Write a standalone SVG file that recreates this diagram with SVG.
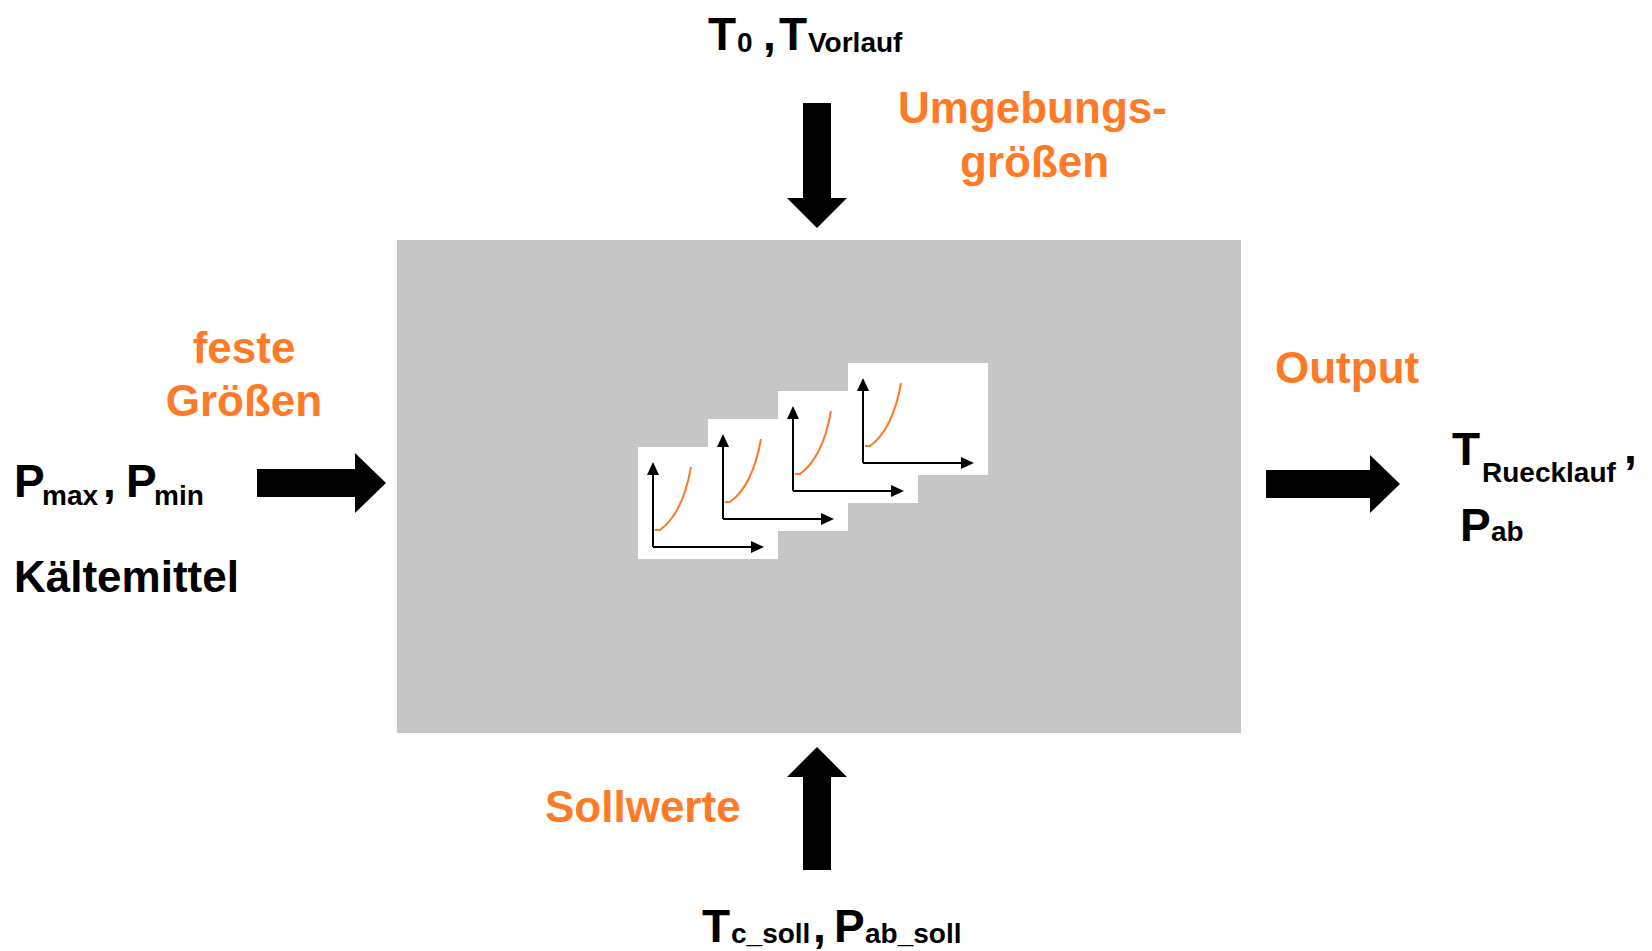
<svg xmlns="http://www.w3.org/2000/svg" width="1652" height="951" viewBox="0 0 1652 951">
  <style>
    .lbl { font-family: "Liberation Sans", Arial, sans-serif; font-weight: bold; font-size: 44px; fill: #ff7a26; }
    .var { font-family: "Liberation Sans", Arial, sans-serif; font-weight: bold; font-size: 46px; fill: #000; }
    .sub { font-size: 28px; }
    .txt { font-family: "Liberation Sans", Arial, sans-serif; font-weight: bold; font-size: 44px; fill: #000; }
    .card { fill: #fff; }
    .axis { stroke: #000; stroke-width: 2; fill: none; }
    .head { fill: #000; }
    .curve { stroke: #ff7a26; stroke-width: 2; fill: none; }
    .block { fill: #000; }
  </style>
  <defs>
    <!-- small characteristic-curve plot, local origin at card top-left -->
    <g id="plot">
      <rect class="card" x="0" y="0" width="140" height="112"/>
    </g>
    <g id="plotContent">
      <path class="axis" d="M15,100 V27 M15,100 H114"/>
      <polygon class="head" points="15,15 9,28 21,28"/>
      <polygon class="head" points="126,100 113,94 113,106"/>
      <path class="curve" d="M17,83 H22 C33,75 46,60 53,20"/>
    </g>
  </defs>

  <rect width="1652" height="951" fill="#fff"/>

  <!-- model block with stacked characteristic maps -->
  <g id="model">
    <rect x="397" y="240" width="844" height="493" fill="#c6c6c6"/>
    <use href="#plot" x="638" y="447"/>
    <use href="#plot" x="708" y="419"/>
    <use href="#plot" x="778" y="391"/>
    <use href="#plot" x="848" y="363"/>
    <use href="#plotContent" x="638" y="447"/>
    <use href="#plotContent" x="708" y="419"/>
    <use href="#plotContent" x="778" y="391"/>
    <use href="#plotContent" x="848" y="363"/>
  </g>

  <!-- block arrows into and out of the model -->
  <g id="connectors">
    <polygon class="block" points="803,103 831,103 831,198 847,198 817,228 787,198 803,198"/>
    <polygon class="block" points="803,870 831,870 831,777 847,777 817,747 787,777 803,777"/>
    <polygon class="block" points="257,469 355,469 355,453 386,483 355,513 355,497 257,497"/>
    <polygon class="block" points="1266,470 1370,470 1370,455 1400,484 1370,513 1370,498 1266,498"/>
  </g>

  <!-- environment inputs -->
  <g id="umgebung">
    <text class="var" y="50"><tspan x="708">T</tspan><tspan class="sub" x="737" y="52">0</tspan><tspan x="763" y="50">,</tspan><tspan x="779">T</tspan><tspan class="sub" x="808" y="52">Vorlauf</tspan></text>
    <text class="lbl" x="898" y="123">Umgebungs-</text>
    <text class="lbl" x="960" y="177">größen</text>
  </g>

  <!-- fixed parameters -->
  <g id="feste">
    <text class="lbl" x="244" y="363" text-anchor="middle">feste</text>
    <text class="lbl" x="244" y="416" text-anchor="middle">Größen</text>
    <text class="var" y="497"><tspan x="14">P</tspan><tspan class="sub" x="42" y="505">max</tspan><tspan x="103" y="497">,</tspan><tspan x="126">P</tspan><tspan class="sub" x="154" y="505">min</tspan></text>
    <text class="txt" x="14" y="592">Kältemittel</text>
  </g>

  <!-- outputs -->
  <g id="output">
    <text class="lbl" x="1275" y="383">Output</text>
    <text class="var" y="465"><tspan x="1452">T</tspan><tspan class="sub" x="1482" y="482">Ruecklauf</tspan><tspan x="1624" y="463">,</tspan></text>
    <text class="var" y="541"><tspan x="1460">P</tspan><tspan class="sub" x="1491" y="541">ab</tspan></text>
  </g>

  <!-- set points -->
  <g id="sollwerte">
    <text class="lbl" x="545" y="822">Sollwerte</text>
    <text class="var" y="942"><tspan x="702">T</tspan><tspan class="sub" x="731" y="943">c_soll</tspan><tspan x="813" y="942">,</tspan><tspan x="834">P</tspan><tspan class="sub" x="865" y="943">ab_soll</tspan></text>
  </g>
</svg>
